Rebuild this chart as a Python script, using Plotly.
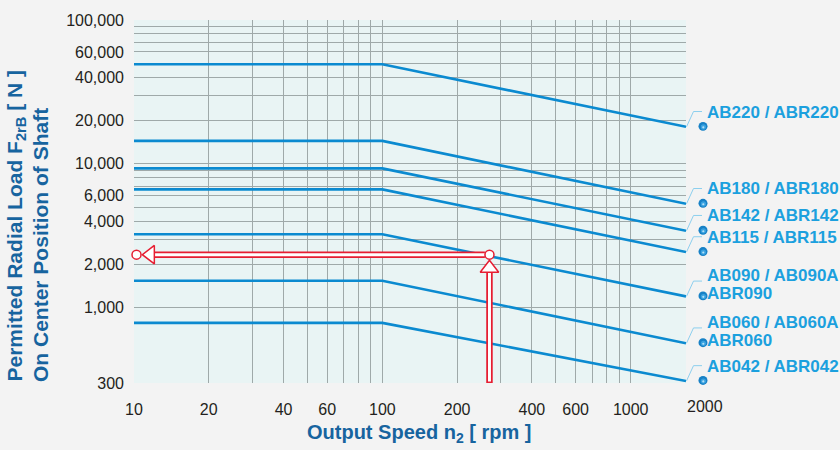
import math
import plotly.graph_objects as go

# ---------------- data ----------------
speed_pts = [10, 100, 1670]
series_names = ["AB220", "AB180", "AB142", "AB115", "AB090", "AB060", "AB042"]
load_ab220 = [49200, 49200, 18100]
load_ab180 = [14450, 14450, 5280]
load_ab142 = [9300, 9300, 3430]
load_ab115 = [6650, 6650, 2440]
load_ab090 = [3240, 3240, 1200]
load_ab060 = [1540, 1540, 567]
load_ab042 = [785, 785, 310]
series_loads = [load_ab220, load_ab180, load_ab142, load_ab115,
                load_ab090, load_ab060, load_ab042]
label_lines = [
    ["AB220 / ABR220"],
    ["AB180 / ABR180"],
    ["AB142 / ABR142"],
    ["AB115 / ABR115"],
    ["AB090 / AB090A", "ABR090"],
    ["AB060 / AB060A", "ABR060"],
    ["AB042 / ABR042"],
]
x_tickvals = [10, 20, 40, 60, 100, 200, 400, 600, 1000]
x_ticktext = ["10", "20", "40", "60", "100", "200", "400", "600", "1000"]
x_extra_tick = 2000
x_gridvals = [20, 30, 40, 50, 60, 70, 80, 90, 100,
              200, 300, 400, 500, 600, 700, 800, 900, 1000]
y_tickvals = [300, 1000, 2000, 4000, 6000, 10000, 20000, 40000, 60000, 100000]
y_ticktext = ["300", "1,000", "2,000", "4,000", "6,000", "10,000",
              "20,000", "40,000", "60,000", "100,000"]
y_gridvals = [1000, 2000, 3000, 4000, 5000, 6000, 7000, 8000, 9000,
              10000, 20000, 30000, 40000, 50000, 60000, 70000, 80000, 90000, 100000]
op_speed = 270
op_load = 2340
x_min, x_max = 10, 1670
y_min, y_max = 300, 100000

# ---------------- styling / geometry ----------------
W, H = 840, 450
ML, MR, MT, MB = 134, 154, 15, 67
PW, PH = W - ML - MR, H - MT - MB
XLO, XHI = math.log10(x_min), math.log10(x_max)
YLO, YHI = math.log10(y_min), math.log10(y_max)
XDEC = PW / (XHI - XLO)
YDEC = PH / (YHI - YLO)

def px_x(v):
    return ML + (math.log10(v) - XLO) * XDEC

def px_y(v):
    return MT + (YHI - math.log10(v)) * YDEC

def data_x(px):
    return 10 ** (XLO + (px - ML) / XDEC)

def data_y(py):
    return 10 ** (YHI - (py - MT) / YDEC)

def paper_x(px):
    return (px - ML) / PW

def paper_y(py):
    return (MT + PH - py) / PH

FONT = "Arial, 'Liberation Sans', Helvetica, sans-serif"
LINE_BLUE = "#0b8ad0"
LABEL_BLUE = "#1ba0de"
TITLE_BLUE = "#17649f"
RED = "#e61e32"
GRID = "#9fa9a9"

fig = go.Figure()

for name, loads in zip(series_names, series_loads):
    fig.add_trace(go.Scatter(x=speed_pts, y=loads, mode="lines", name=name,
                             line=dict(color=LINE_BLUE, width=2.6),
                             hoverinfo="x+y+name", showlegend=False))

# ---- red reading arrows ----
cx, cy = px_x(op_speed), px_y(op_load)
lx = px_x(x_min) + 2.5
r_circ = 4.6
tri_tip_off = 9.24
hx0 = lx + r_circ + 13.5
hx1 = cx - r_circ
vy0 = cy + r_circ + 13.5
vy1 = MT + PH
for col, wd in ((RED, 6.5), ("white", 3)):
    fig.add_trace(go.Scatter(x=[data_x(hx0), data_x(hx1)], y=[op_load, op_load],
                             mode="lines", line=dict(color=col, width=wd),
                             hoverinfo="skip", showlegend=False))
    fig.add_trace(go.Scatter(x=[op_speed, op_speed],
                             y=[data_y(vy0), data_y(vy1 - (0 if col == RED else 1.5))],
                             mode="lines", line=dict(color=col, width=wd),
                             hoverinfo="skip", showlegend=False))
fig.add_trace(go.Scatter(x=[data_x(lx + r_circ + tri_tip_off)], y=[op_load], mode="markers",
                         marker=dict(symbol="triangle-left", size=16, color="white",
                                     line=dict(color=RED, width=1.5)),
                         cliponaxis=False, hoverinfo="skip", showlegend=False))
fig.add_trace(go.Scatter(x=[op_speed], y=[data_y(cy + r_circ + tri_tip_off)], mode="markers",
                         marker=dict(symbol="triangle-up", size=16, color="white",
                                     line=dict(color=RED, width=1.5)),
                         cliponaxis=False, hoverinfo="skip", showlegend=False))
fig.add_trace(go.Scatter(x=[data_x(lx), op_speed], y=[op_load, op_load], mode="markers",
                         marker=dict(symbol="circle", size=9, color="white",
                                     line=dict(color=RED, width=1.5)),
                         cliponaxis=False, hoverinfo="skip", showlegend=False))

# ---- right-hand labels, leaders and bullets ----
shapes = []
annotations = []

def circle_shape(pcx, pcy, r, color):
    return dict(type="circle", xref="paper", yref="paper",
                x0=paper_x(pcx - r), x1=paper_x(pcx + r),
                y0=paper_y(pcy + r), y1=paper_y(pcy - r),
                fillcolor=color, line=dict(width=0))

for loads, lines in zip(series_loads, label_lines):
    end = loads[-1]
    ey = px_y(end)
    ex = px_x(speed_pts[-1])
    lead_y = ey - 15.5
    path = "M {:.5f},{:.5f} L {:.5f},{:.5f} L {:.5f},{:.5f}".format(
        paper_x(ex + 0.5), paper_y(ey), paper_x(ex + 7.5), paper_y(lead_y),
        paper_x(ex + 16), paper_y(lead_y))
    shapes.append(dict(type="path", xref="paper", yref="paper", path=path,
                       line=dict(color="#8ccfee", width=1)))
    bx, by = ex + 17, ey - 0.5
    shapes.append(circle_shape(bx, by, 4.5, "#1781c6"))
    shapes.append(circle_shape(bx + 0.4, by + 0.6, 2.6, "#3aa2e0"))
    shapes.append(circle_shape(bx + 0.3, by + 1.0, 1.1, "#b5e0f6"))
    offs = [15] if len(lines) == 1 else [21.5, 2.5]
    for txt, off in zip(lines, offs):
        annotations.append(dict(
            x=paper_x(ML + PW + 20), xref="paper", xanchor="left",
            y=paper_y(ey - off), yref="paper", yanchor="middle",
            text=txt, showarrow=False, borderpad=0,
            font=dict(family=FONT, size=17, color=LABEL_BLUE, weight=700)))

annotations.append(dict(
    x=paper_x(px_x(x_extra_tick)), xref="paper", xanchor="center",
    y=paper_y(MT + PH + 23.5), yref="paper", yanchor="middle",
    text=str(x_extra_tick), showarrow=False,
    font=dict(family=FONT, size=16, color="#231f20")))

annotations.append(dict(
    x=paper_x(15.5), xref="paper", xanchor="center",
    y=paper_y(384), yref="paper", yanchor="bottom", textangle=-90,
    text="Permitted Radial Load F<sub>2rB</sub> [ N ]", showarrow=False,
    font=dict(family=FONT, size=21, color=TITLE_BLUE, weight=700)))
annotations.append(dict(
    x=paper_x(41), xref="paper", xanchor="center",
    y=paper_y(384), yref="paper", yanchor="bottom", textangle=-90,
    text="On Center Position of Shaft", showarrow=False,
    font=dict(family=FONT, size=21, color=TITLE_BLUE, weight=700)))
annotations.append(dict(
    x=paper_x(419), xref="paper", xanchor="center",
    y=paper_y(434.5), yref="paper", yanchor="middle",
    text="Output Speed n<sub>2</sub> [ rpm ]", showarrow=False,
    font=dict(family=FONT, size=20, color=TITLE_BLUE, weight=700)))

fig.update_layout(
    width=W, height=H,
    margin=dict(l=ML, r=MR, t=MT, b=MB, pad=0),
    paper_bgcolor="#f3f3f3",
    plot_bgcolor="#e9f4f4",
    showlegend=False,
    shapes=shapes,
    annotations=annotations,
    xaxis=dict(type="log", range=[XLO, XHI], tickmode="array",
               tickvals=x_tickvals, ticktext=x_ticktext,
               showgrid=False, zeroline=False, showline=False, ticks="",
               ticklabelstandoff=15,
               tickfont=dict(family=FONT, size=16, color="#231f20"),
               minor=dict(tickmode="array", tickvals=x_gridvals, showgrid=True,
                          gridcolor=GRID, gridwidth=1, ticks="")),
    yaxis=dict(type="log", range=[YLO, YHI], tickmode="array",
               tickvals=y_tickvals, ticktext=y_ticktext,
               showgrid=False, zeroline=False, showline=False, ticks="",
               ticklabelstandoff=9,
               tickfont=dict(family=FONT, size=16, color="#231f20"),
               minor=dict(tickmode="array", tickvals=y_gridvals, showgrid=True,
                          gridcolor=GRID, gridwidth=1, ticks="")),
)

fig.write_html("out.html", config={"displayModeBar": False},
               post_script="document.body.style.margin='0';document.body.style.overflow='hidden';")
